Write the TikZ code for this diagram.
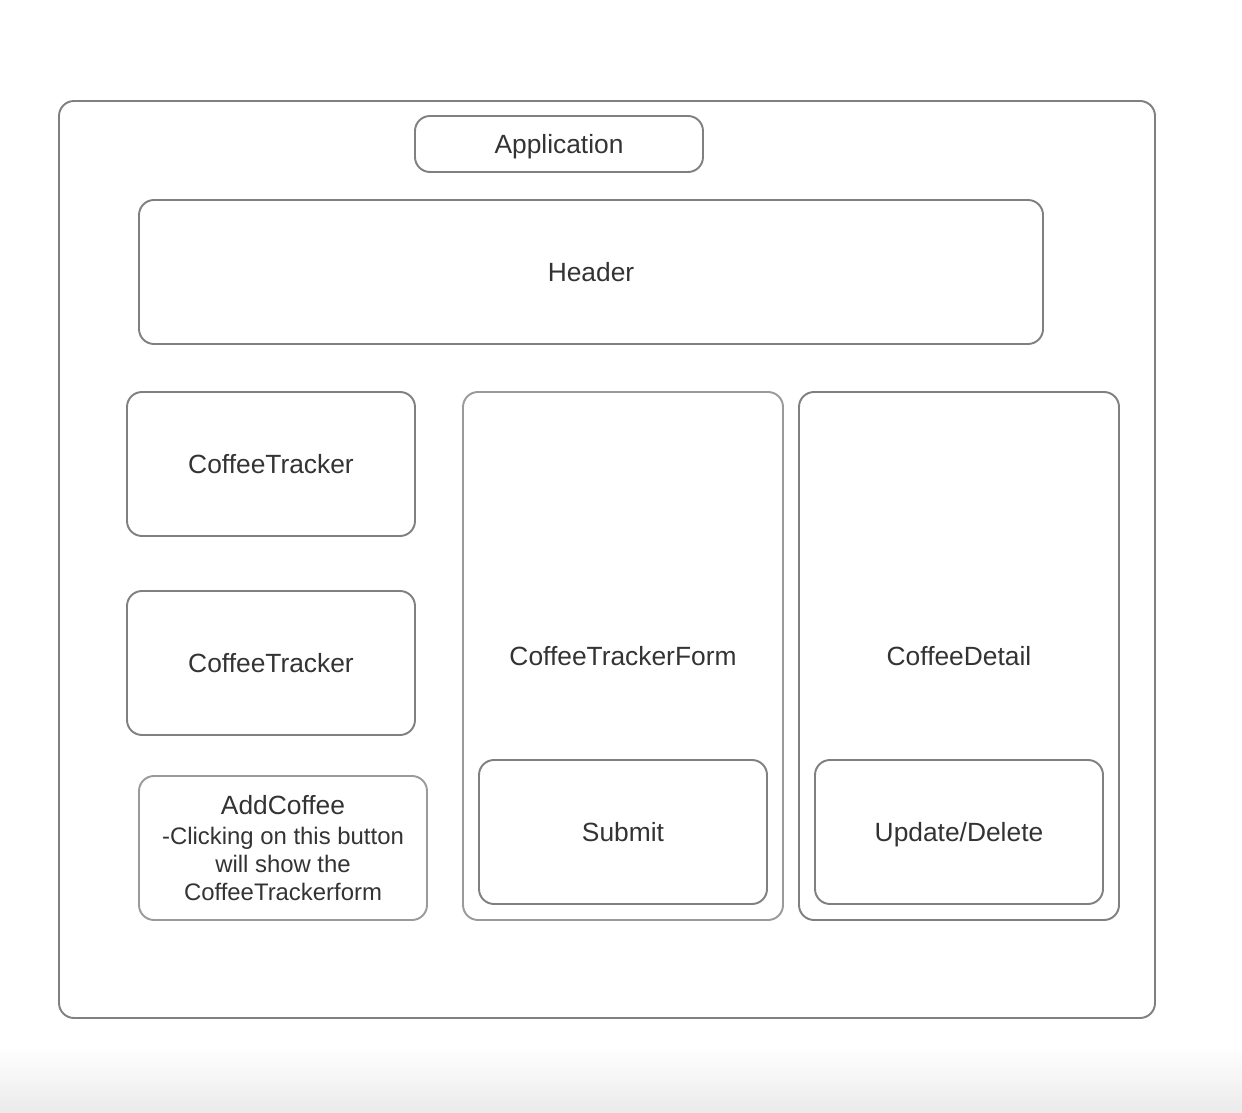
\documentclass[tikz,border=0pt]{standalone}
\usepackage{fontspec}
\setmainfont{Liberation Sans}
\usepackage{xcolor}
\usepackage{tikz}
\usetikzlibrary{shapes,positioning}
\definecolor{edge}{HTML}{808080}
\definecolor{lightedge}{HTML}{9A9A9A}
\definecolor{ink}{HTML}{333333}
\newcommand\notefont{\fontsize{13.6}{15.6}\selectfont}
\tikzset{box/.style={rectangle,draw=edge,line width=1.1pt,rounded corners=0.3cm,text=ink,font=\fontsize{15}{15.8}\selectfont,align=center,inner sep=0pt}}
\tikzset{lbl/.style={text height=10.7pt,text depth=0pt}}

\begin{document}
\begin{tikzpicture}
        \useasboundingbox (0,0) rectangle (24.84,22.24);
        \shade[top color=white,bottom color=black!8] (0,0) rectangle (24.84,1.3);
        \node[box,minimum width=21.92cm,minimum height=18.34cm] (a)at (12.14,11.05) {};
        \node[box,lbl,minimum width=5.76cm,minimum height=1.12cm] (b)at (11.18,19.36) {Application};
        \node[box,minimum width=18.08cm,minimum height=2.88cm] (c)at (11.82,16.80) {Header};
        \node[box,minimum width=5.76cm,minimum height=2.88cm] (d)at (5.42,12.96) {CoffeeTracker};
        \node[box,minimum width=5.76cm,minimum height=2.88cm] (e)at (5.42,8.98) {CoffeeTracker};
        \node[box,draw=lightedge,minimum width=5.76cm,minimum height=2.88cm] (f)at (5.66,5.28) {AddCoffee\\[1.5pt]\notefont -Clicking on this button\\\notefont will show the\\\notefont CoffeeTrackerform};
        \node[box,draw=lightedge,minimum width=6.40cm,minimum height=10.56cm] (g)at (12.46,9.12) {CoffeeTrackerForm};
        \node[box,minimum width=5.76cm,minimum height=2.88cm] (h)at (12.46,5.60) {Submit};
        \node[box,minimum width=6.40cm,minimum height=10.56cm] (i)at (19.18,9.12) {CoffeeDetail};
        \node[box,lbl,minimum width=5.76cm,minimum height=2.88cm] (j)at (19.18,5.60) {Update/Delete};
    \end{tikzpicture}
\end{document}
